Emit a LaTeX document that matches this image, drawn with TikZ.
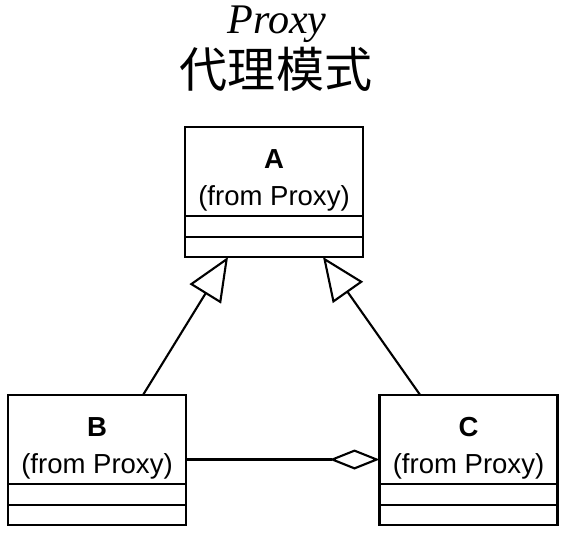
\documentclass[tikz,border=0pt]{standalone}
\usepackage{fontspec}
\newfontfamily\boxfont{Liberation Sans}
\newfontfamily\titlefont{Liberation Serif}
\newfontfamily\cjk{Noto Sans CJK SC}
\usetikzlibrary{arrows.meta, positioning}
\tikzset{
  class name/.style={
    rectangle, draw, line width=1.8pt, outer sep=0pt, inner sep=2pt,
    minimum width=5.34cm, minimum height=2.67cm, align=center,
    font=\boxfont\fontsize{23.5}{31.5}\selectfont
  },
  class part/.style={
    rectangle, draw, line width=1.8pt, outer sep=0pt, inner sep=0pt,
    minimum width=5.34cm, minimum height=#1
  },
  inherit/.style={-{Triangle[open, length=1.3cm, width=1.1cm]}, line width=1.8pt},
  aggregate/.style={-{Diamond[open, length=1.5cm, width=0.6cm]}, line width=1.8pt},
}
\newcommand{\toppad}{\rule{0pt}{32pt}}

\begin{document}
\begin{tikzpicture}
  \useasboundingbox (0,0) rectangle (16.98,-15.99);

  % ── Title ─────────────────────────────────────────────────────────────────
  \node[anchor=base, font=\titlefont\itshape\fontsize{36}{40}\selectfont] (title) at (8.31,-0.99) {Proxy};
  \node[anchor=base, font=\cjk\fontsize{41}{46}\selectfont] (subtitle) at (8.28,-2.61) {代理模式};

  % ── Class A ───────────────────────────────────────────────────────────────
  \node[class name] (a) at (8.22,-5.145) {\toppad\textbf{A}\\(from Proxy)};
  \node[class part=0.63cm, below=0pt of a] (a attr) {};
  \node[class part=0.6cm, below=0pt of a attr] (a ops) {};

  % ── Class B ───────────────────────────────────────────────────────────────
  \node[class name] (b) at (2.91,-13.185) {\toppad\textbf{B}\\(from Proxy)};
  \node[class part=0.63cm, below=0pt of b] (b attr) {};
  \node[class part=0.6cm, below=0pt of b attr] (b ops) {};

  % ── Class C ───────────────────────────────────────────────────────────────
  \node[class name] (c) at (14.055,-13.185) {\toppad\textbf{C}\\(from Proxy)};
  \node[class part=0.63cm, below=0pt of c] (c attr) {};
  \node[class part=0.6cm, below=0pt of c attr] (c ops) {};

  % ── Arrows ────────────────────────────────────────────────────────────────
  \draw[inherit]   ([xshift=1.38cm]b.north)  -- ([xshift=-1.38cm]a ops.south);
  \draw[inherit]   ([xshift=-1.45cm]c.north) -- ([xshift=1.47cm]a ops.south);
  \draw[aggregate] ([yshift=-0.6cm]b.east)   -- ([yshift=-0.6cm]c.west);

\end{tikzpicture}
\end{document}
